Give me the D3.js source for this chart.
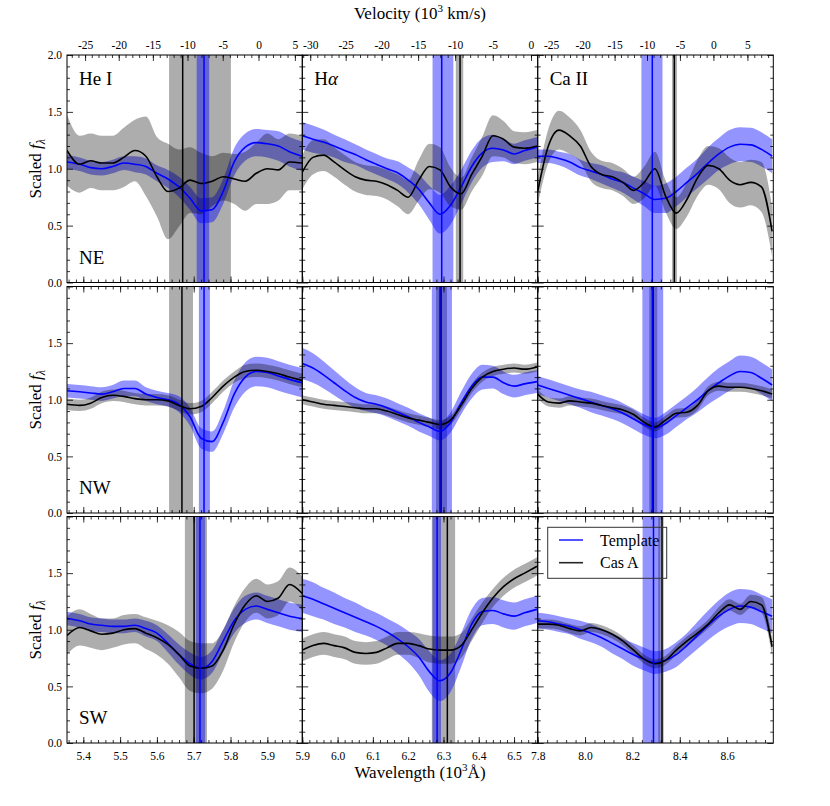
<!DOCTYPE html>
<html><head><meta charset="utf-8">
<script src="https://cdn.jsdelivr.net/npm/d3@7"></script>
<style>body{margin:0;background:#fff} text{font-family:"Liberation Serif","DejaVu Serif",serif;fill:#000}</style>
</head><body><svg id="c" width="830" height="806"></svg>
<script>
// ---------------- categories / labels ----------------
const lineNames = ["He I", "Hα", "Ca II"];
const regionNames = ["NE", "NW", "SW"];
const restWave = [5.876, 6.548, 8.542];            // 10^3 Å, zero of the velocity axis
const waveDomain = [[5.3557, 5.995], [5.9, 6.567], [7.8, 8.795]];
const waveTicks = [[5.4,5.5,5.6,5.7,5.8,5.9],[5.9,6.0,6.1,6.2,6.3,6.4,6.5],[7.8,8.0,8.2,8.4,8.6]];
const waveMinorStep = [0.02, 0.02, 0.04];
const velTicks = [[-25,-20,-15,-10,-5,0,5],[-30,-25,-20,-15,-10,-5,0],[-25,-20,-15,-10,-5,0,5]];
const yTicks = [0, 0.5, 1.0, 1.5, 2.0];

// ---------------- wavelength grids (10^3 Å) ----------------
const waveHeI = [5.356,5.39,5.42,5.45,5.48,5.51,5.54,5.57,5.60,5.63,5.66,5.69,5.72,5.75,5.78,5.81,5.84,5.87,5.90,5.93,5.96,5.995];
const waveHa  = [5.90,5.93,5.96,5.99,6.02,6.05,6.08,6.11,6.14,6.17,6.20,6.23,6.26,6.29,6.32,6.35,6.38,6.41,6.44,6.47,6.50,6.53,6.565];
const waveCaII= [7.80,7.845,7.89,7.935,7.98,8.025,8.07,8.115,8.16,8.205,8.25,8.295,8.34,8.385,8.43,8.475,8.52,8.565,8.61,8.655,8.70,8.745,8.79];

// ---------------- NE ----------------
const tplNE_HeI    = [1.06,1.04,1.01,1.00,1.02,1.05,1.04,1.02,0.96,0.91,0.84,0.74,0.63,0.64,0.80,1.06,1.19,1.23,1.22,1.20,1.15,1.11];
const tplErrNE_HeI = [0.06,0.06,0.06,0.06,0.06,0.06,0.07,0.07,0.07,0.08,0.09,0.10,0.11,0.11,0.11,0.12,0.12,0.12,0.12,0.13,0.13,0.13];
const casNE_HeI    = [1.16,1.04,1.07,1.05,1.05,1.10,1.16,1.11,0.93,0.80,0.83,0.90,0.87,0.89,0.93,0.91,0.89,0.96,1.00,0.99,1.06,1.05];
const casErrNE_HeI = [0.31,0.25,0.24,0.24,0.24,0.26,0.27,0.35,0.35,0.42,0.34,0.29,0.27,0.22,0.21,0.22,0.26,0.27,0.31,0.27,0.25,0.24];

const tplNE_Ha     = [1.29,1.26,1.235,1.20,1.16,1.125,1.08,1.04,1.00,0.965,0.90,0.82,0.70,0.60,0.68,0.84,1.02,1.14,1.18,1.165,1.13,1.16,1.19];
const tplErrNE_Ha  = [0.12,0.12,0.11,0.10,0.10,0.09,0.09,0.09,0.09,0.10,0.11,0.13,0.15,0.17,0.17,0.15,0.14,0.13,0.12,0.10,0.09,0.09,0.09];
const casNE_Ha     = [0.97,1.10,1.12,1.06,0.99,0.93,0.90,0.89,0.86,0.81,0.75,0.90,1.02,0.99,0.84,0.78,0.95,1.11,1.29,1.26,1.19,1.18,1.20];
const casErrNE_Ha  = [0.15,0.15,0.14,0.13,0.13,0.13,0.13,0.13,0.13,0.14,0.15,0.18,0.20,0.20,0.17,0.14,0.15,0.17,0.18,0.16,0.14,0.14,0.14];

const tplNE_CaII    = [1.11,1.11,1.09,1.06,1.01,0.98,0.95,0.91,0.88,0.83,0.78,0.73,0.74,0.80,0.88,0.96,1.05,1.13,1.19,1.215,1.21,1.17,1.11];
const tplErrNE_CaII = [0.06,0.06,0.06,0.07,0.07,0.07,0.08,0.08,0.09,0.10,0.11,0.12,0.13,0.13,0.13,0.13,0.14,0.14,0.15,0.15,0.15,0.15,0.15];
const casNE_CaII    = [0.80,1.20,1.34,1.29,1.20,1.02,0.95,0.93,0.88,0.81,0.88,1.00,0.76,0.61,0.73,0.92,1.03,1.00,0.90,0.86,0.88,0.84,0.45];
const casErrNE_CaII = [0.12,0.15,0.17,0.16,0.14,0.13,0.12,0.12,0.12,0.12,0.14,0.15,0.14,0.14,0.15,0.16,0.17,0.18,0.20,0.20,0.20,0.22,0.22];

// ---------------- NW ----------------
const tplNW_HeI    = [1.08,1.07,1.06,1.05,1.07,1.10,1.10,1.05,1.02,1.00,0.96,0.85,0.66,0.63,0.80,1.05,1.20,1.25,1.24,1.21,1.18,1.15];
const tplErrNW_HeI = [0.06,0.06,0.06,0.06,0.06,0.07,0.07,0.06,0.06,0.06,0.07,0.08,0.09,0.09,0.10,0.12,0.13,0.13,0.13,0.13,0.13,0.13];
const casNW_HeI    = [0.96,0.95,0.97,1.02,1.04,1.03,1.01,1.00,1.00,0.99,0.95,0.92,0.94,1.02,1.12,1.20,1.25,1.26,1.25,1.23,1.20,1.17];
const casErrNW_HeI = [0.05,0.05,0.05,0.05,0.05,0.05,0.05,0.05,0.05,0.05,0.05,0.05,0.05,0.05,0.05,0.05,0.06,0.06,0.06,0.06,0.06,0.06];

const tplNW_Ha     = [1.32,1.28,1.22,1.15,1.08,1.02,0.98,0.96,0.93,0.89,0.85,0.80,0.76,0.72,0.80,0.97,1.12,1.20,1.20,1.15,1.12,1.14,1.16];
const tplErrNW_Ha  = [0.14,0.13,0.12,0.11,0.10,0.09,0.08,0.08,0.08,0.08,0.08,0.08,0.08,0.08,0.09,0.10,0.11,0.11,0.10,0.10,0.10,0.10,0.10];
const casNW_Ha     = [1.00,0.98,0.96,0.95,0.94,0.93,0.92,0.92,0.90,0.87,0.84,0.82,0.80,0.78,0.82,0.95,1.10,1.20,1.25,1.27,1.28,1.27,1.29];
const casErrNW_Ha  = [0.04,0.04,0.04,0.04,0.04,0.04,0.04,0.04,0.04,0.04,0.04,0.04,0.04,0.04,0.04,0.04,0.04,0.04,0.04,0.04,0.04,0.04,0.04];

const tplNW_CaII    = [1.13,1.10,1.07,1.04,1.01,0.98,0.95,0.92,0.88,0.83,0.78,0.75,0.79,0.86,0.93,1.00,1.08,1.15,1.21,1.25,1.24,1.19,1.13];
const tplErrNW_CaII = [0.08,0.08,0.08,0.08,0.08,0.09,0.09,0.09,0.09,0.09,0.09,0.09,0.10,0.10,0.10,0.11,0.12,0.13,0.13,0.14,0.14,0.14,0.14];
const casNW_CaII    = [1.05,0.98,0.97,0.99,0.98,0.97,0.95,0.93,0.91,0.87,0.80,0.76,0.82,0.88,0.89,0.95,1.08,1.12,1.11,1.11,1.10,1.08,1.05];
const casErrNW_CaII = [0.04,0.04,0.04,0.04,0.04,0.04,0.04,0.04,0.04,0.04,0.04,0.04,0.04,0.04,0.04,0.04,0.04,0.04,0.04,0.04,0.04,0.04,0.04];

// ---------------- SW ----------------
const tplSW_HeI    = [1.10,1.08,1.05,1.04,1.03,1.03,1.04,1.01,0.97,0.88,0.78,0.70,0.66,0.72,0.90,1.08,1.18,1.21,1.18,1.15,1.12,1.10];
const tplErrSW_HeI = [0.06,0.06,0.06,0.06,0.06,0.06,0.06,0.07,0.07,0.08,0.09,0.10,0.10,0.10,0.10,0.11,0.12,0.12,0.12,0.12,0.12,0.12];
const casSW_HeI    = [0.95,1.02,0.99,0.96,0.97,1.00,1.01,0.97,0.93,0.87,0.78,0.68,0.66,0.68,0.82,1.05,1.22,1.30,1.25,1.28,1.40,1.32];
const casErrSW_HeI = [0.17,0.16,0.15,0.14,0.13,0.13,0.13,0.14,0.15,0.17,0.20,0.22,0.22,0.20,0.18,0.16,0.15,0.15,0.15,0.15,0.15,0.15];

const tplSW_Ha     = [1.30,1.27,1.23,1.19,1.15,1.11,1.07,1.03,0.98,0.92,0.85,0.76,0.63,0.55,0.62,0.82,1.05,1.16,1.17,1.14,1.12,1.15,1.18];
const tplErrSW_Ha  = [0.15,0.15,0.14,0.14,0.13,0.13,0.12,0.12,0.12,0.13,0.14,0.16,0.18,0.18,0.17,0.15,0.13,0.12,0.12,0.12,0.12,0.12,0.12];
const casSW_Ha     = [0.82,0.86,0.88,0.86,0.84,0.80,0.79,0.80,0.84,0.88,0.88,0.86,0.83,0.82,0.82,0.86,1.00,1.15,1.28,1.38,1.45,1.50,1.56];
const casErrSW_Ha  = [0.10,0.10,0.10,0.10,0.10,0.10,0.10,0.10,0.10,0.10,0.10,0.11,0.12,0.12,0.12,0.11,0.10,0.09,0.08,0.08,0.08,0.08,0.08];

const tplSW_CaII    = [1.08,1.07,1.05,1.03,1.00,0.97,0.93,0.88,0.83,0.78,0.74,0.71,0.73,0.78,0.86,0.95,1.04,1.12,1.18,1.21,1.20,1.16,1.12];
const tplErrSW_CaII = [0.07,0.07,0.07,0.07,0.08,0.08,0.08,0.09,0.09,0.10,0.10,0.10,0.10,0.11,0.11,0.12,0.13,0.14,0.15,0.15,0.15,0.15,0.15];
const casSW_CaII    = [1.05,1.05,1.04,1.01,0.99,1.02,1.00,0.96,0.90,0.82,0.74,0.70,0.73,0.82,0.90,0.97,1.05,1.15,1.22,1.18,1.25,1.22,0.85];
const casErrSW_CaII = [0.04,0.04,0.04,0.04,0.04,0.04,0.04,0.04,0.04,0.04,0.04,0.04,0.04,0.04,0.04,0.04,0.04,0.05,0.05,0.05,0.06,0.07,0.08];

// ---------------- absorption minima: [centre, low, high] in 10^3 Å ----------------
const tplMinNE = [[5.728,5.708,5.742],[6.295,6.269,6.328],[8.284,8.238,8.327]];
const casMinNE = [[5.670,5.633,5.801],[6.347,6.335,6.356],[8.377,8.367,8.388]];
const tplMinNW = [[5.728,5.714,5.744],[6.290,6.267,6.324],[8.284,8.242,8.330]];
const casMinNW = [[5.668,5.633,5.698],[6.293,6.279,6.310],[8.288,8.271,8.305]];
const tplMinSW = [[5.717,5.706,5.731],[6.282,6.269,6.293],[8.289,8.243,8.318]];
const casMinSW = [[5.701,5.676,5.736],[6.311,6.267,6.333],[8.325,8.309,8.332]];

// ---------------- tables ----------------
const waveGrid = [waveHeI, waveHa, waveCaII];
const tpl    = [[tplNE_HeI,tplNE_Ha,tplNE_CaII],[tplNW_HeI,tplNW_Ha,tplNW_CaII],[tplSW_HeI,tplSW_Ha,tplSW_CaII]];
const tplErr = [[tplErrNE_HeI,tplErrNE_Ha,tplErrNE_CaII],[tplErrNW_HeI,tplErrNW_Ha,tplErrNW_CaII],[tplErrSW_HeI,tplErrSW_Ha,tplErrSW_CaII]];
const cas    = [[casNE_HeI,casNE_Ha,casNE_CaII],[casNW_HeI,casNW_Ha,casNW_CaII],[casSW_HeI,casSW_Ha,casSW_CaII]];
const casErr = [[casErrNE_HeI,casErrNE_Ha,casErrNE_CaII],[casErrNW_HeI,casErrNW_Ha,casErrNW_CaII],[casErrSW_HeI,casErrSW_Ha,casErrSW_CaII]];
const tplMin = [tplMinNE, tplMinNW, tplMinSW];
const casMin = [casMinNE, casMinNW, casMinSW];

// ---------------- layout ----------------
const W = 830, H = 806;
const colX = [67, 302.3, 537.7, 773.3];
const rowY = [[55, 282.5], [286.5, 513], [516.5, 743]];
const BLUE = "#0000ff";
const C = 299.792458;
const velToWave = (v, l0) => { const b = v / C; return l0 * Math.sqrt((1 + b) / (1 - b)); };
const waveToVel = (w, l0) => { const r = (w / l0) ** 2; return C * (r - 1) / (r + 1); };

const svg = d3.select("#c");
svg.append("rect").attr("width", W).attr("height", H).attr("fill", "#fff");
const defs = svg.append("defs");
const TICKFONT = 11.5;

function styleAxis(g) {
  g.select(".domain").remove();
  g.selectAll(".tick line").attr("stroke", "#000").attr("stroke-width", 0.8);
  g.selectAll(".tick text").attr("font-family", "Liberation Serif").attr("font-size", TICKFONT).attr("fill", "#000");
}

for (let r = 0; r < 3; r++) {
  for (let c = 0; c < 3; c++) {
    const x = d3.scaleLinear().domain(waveDomain[c]).range([colX[c], colX[c + 1]]);
    const y = d3.scaleLinear().domain([0, 2]).range([rowY[r][1], rowY[r][0]]);
    const id = `clip${r}${c}`;
    defs.append("clipPath").attr("id", id).append("rect")
      .attr("x", colX[c]).attr("y", rowY[r][0])
      .attr("width", colX[c + 1] - colX[c]).attr("height", rowY[r][1] - rowY[r][0]);
    const g = svg.append("g").attr("clip-path", `url(#${id})`);
    const wv = waveGrid[c];
    const t = tpl[r][c], te = tplErr[r][c], k = cas[r][c], ke = casErr[r][c];
    const top = rowY[r][0], bot = rowY[r][1];

    // vertical bands (minima)
    const cm = casMin[r][c], tm = tplMin[r][c];
    g.append("rect").attr("x", x(cm[1])).attr("width", x(cm[2]) - x(cm[1]))
      .attr("y", top).attr("height", bot - top).attr("fill", "#000").attr("fill-opacity", 0.32);
    g.append("rect").attr("x", x(tm[1])).attr("width", x(tm[2]) - x(tm[1]))
      .attr("y", top).attr("height", bot - top).attr("fill", BLUE).attr("fill-opacity", 0.42);

    // data bands
    const area = (m, e) => d3.area().x((d, i) => x(wv[i])).y0((d, i) => y(m[i] - e[i])).y1((d, i) => y(m[i] + e[i])).curve(d3.curveMonotoneX);
    g.append("path").attr("d", area(t, te)(t)).attr("fill", BLUE).attr("fill-opacity", 0.42);
    g.append("path").attr("d", area(k, ke)(k)).attr("fill", "#000").attr("fill-opacity", 0.32);

    const line = d3.line().x((d, i) => x(wv[i])).y(d => y(d)).curve(d3.curveMonotoneX);
    g.append("path").attr("d", line(t)).attr("fill", "none").attr("stroke", BLUE).attr("stroke-width", 1.6);
    g.append("path").attr("d", line(k)).attr("fill", "none").attr("stroke", "#000").attr("stroke-width", 1.6);

    // vertical lines
    g.append("line").attr("x1", x(cm[0])).attr("x2", x(cm[0])).attr("y1", top).attr("y2", bot)
      .attr("stroke", "#000").attr("stroke-width", 1.5);
    g.append("line").attr("x1", x(tm[0])).attr("x2", x(tm[0])).attr("y1", top).attr("y2", bot)
      .attr("stroke", BLUE).attr("stroke-width", 1.5);

    // ---- axes ----
    const yMinor = d3.range(0.1, 2.0, 0.1).filter(v => Math.abs(v * 2 - Math.round(v * 2)) > 1e-6);
    const yFmt = v => (c !== 0 || (r > 0 && v === 2)) ? "" : d3.format(".1f")(v);
    svg.append("g").attr("transform", `translate(${colX[c]},0)`)
      .call(d3.axisLeft(y).tickValues(yTicks).tickSize(-6).tickPadding(5).tickFormat(yFmt)).call(styleAxis);
    svg.append("g").attr("transform", `translate(${colX[c]},0)`)
      .call(d3.axisLeft(y).tickValues(yMinor).tickSize(-3).tickFormat("")).call(styleAxis);
    svg.append("g").attr("transform", `translate(${colX[c + 1]},0)`)
      .call(d3.axisRight(y).tickValues(yTicks).tickSize(-6).tickFormat("")).call(styleAxis);
    svg.append("g").attr("transform", `translate(${colX[c + 1]},0)`)
      .call(d3.axisRight(y).tickValues(yMinor).tickSize(-3).tickFormat("")).call(styleAxis);

    const wMinor = d3.range(Math.ceil(waveDomain[c][0] / waveMinorStep[c]) * waveMinorStep[c], waveDomain[c][1], waveMinorStep[c]);
    svg.append("g").attr("transform", `translate(0,${bot})`)
      .call(d3.axisBottom(x).tickValues(waveTicks[c]).tickSize(-6).tickPadding(9)
        .tickFormat(v => r === 2 ? d3.format(".1f")(v) : "")).call(styleAxis);
    svg.append("g").attr("transform", `translate(0,${bot})`)
      .call(d3.axisBottom(x).tickValues(wMinor).tickSize(-3).tickFormat("")).call(styleAxis);

    if (r === 0) {
      const l0 = restWave[c];
      const vMajW = velTicks[c].map(v => velToWave(v, l0));
      const v0 = Math.ceil(waveToVel(waveDomain[c][0], l0)), v1 = Math.floor(waveToVel(waveDomain[c][1], l0));
      const vMinW = d3.range(v0, v1 + 1).map(v => velToWave(v, l0));
      svg.append("g").attr("transform", `translate(0,${top})`)
        .call(d3.axisTop(x).tickValues(vMajW).tickSize(-6).tickPadding(6)
          .tickFormat((d, i) => String(velTicks[c][i]))).call(styleAxis);
      svg.append("g").attr("transform", `translate(0,${top})`)
        .call(d3.axisTop(x).tickValues(vMinW).tickSize(-3).tickFormat("")).call(styleAxis);
    } else {
      svg.append("g").attr("transform", `translate(0,${top})`)
        .call(d3.axisTop(x).tickValues(waveTicks[c]).tickSize(-6).tickFormat("")).call(styleAxis);
      svg.append("g").attr("transform", `translate(0,${top})`)
        .call(d3.axisTop(x).tickValues(wMinor).tickSize(-3).tickFormat("")).call(styleAxis);
    }

    // frame
    svg.append("rect").attr("x", colX[c]).attr("y", top).attr("width", colX[c + 1] - colX[c]).attr("height", bot - top)
      .attr("fill", "none").attr("stroke", "#000").attr("stroke-width", 1);

    // panel labels
    if (r === 0) {
      const tx = svg.append("text").attr("x", colX[c] + 12).attr("y", top + 30).attr("font-size", 19);
      if (c === 1) { tx.append("tspan").text("H"); tx.append("tspan").attr("font-style", "italic").text("α"); }
      else tx.text(lineNames[c]);
    }
    if (c === 0) {
      svg.append("text").attr("x", colX[0] + 12).attr("y", bot - 19).attr("font-size", 19).text(regionNames[r]);
      const yl = svg.append("text").attr("transform", `translate(41,${(top + bot) / 2}) rotate(-90)`)
        .attr("text-anchor", "middle").attr("font-size", 17);
      yl.append("tspan").text("Scaled ");
      yl.append("tspan").attr("font-style", "italic").text("f");
      yl.append("tspan").attr("font-style", "italic").attr("font-size", 12).attr("dy", 4).text("λ");
    }
  }
}

// axis titles
const vt = svg.append("text").attr("x", 420).attr("y", 19).attr("text-anchor", "middle").attr("font-size", 17);
vt.append("tspan").text("Velocity (10");
vt.append("tspan").attr("font-size", 11).attr("dy", -7).text("3");
vt.append("tspan").attr("dy", 7).text(" km/s)");
const wt = svg.append("text").attr("x", 420).attr("y", 778).attr("text-anchor", "middle").attr("font-size", 17);
wt.append("tspan").text("Wavelength (10");
wt.append("tspan").attr("font-size", 11).attr("dy", -7).text("3");
wt.append("tspan").attr("dy", 7).text("Å)");

// legend
const legendItems = [{ label: "Template", color: BLUE }, { label: "Cas A", color: "#000" }];
const lg = svg.append("g");
lg.append("rect").attr("x", 547.7).attr("y", 527.3).attr("width", 119).attr("height", 51)
  .attr("fill", "none").attr("stroke", "#333").attr("stroke-width", 1);
legendItems.forEach((d, i) => {
  const ly = 540 + i * 22.7;
  lg.append("line").attr("x1", 559).attr("x2", 583).attr("y1", ly).attr("y2", ly)
    .attr("stroke", d.color).attr("stroke-width", 1.6).attr("stroke-opacity", 0.85);
  lg.append("text").attr("x", 600).attr("y", ly + 5.5).attr("font-size", 16).text(d.label);
});
</script>
</body></html>
